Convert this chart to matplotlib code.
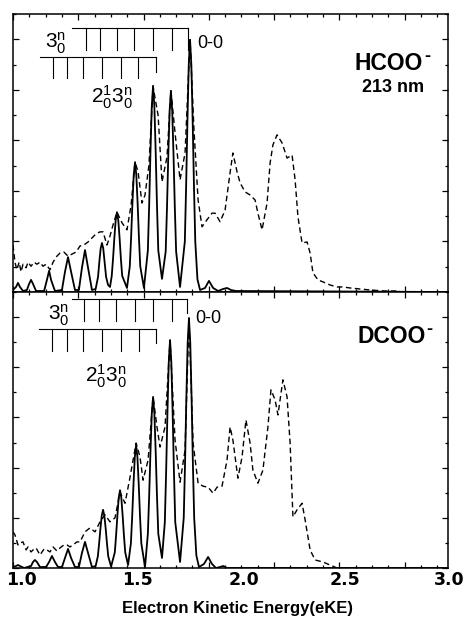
import matplotlib
matplotlib.use('Agg')
import matplotlib.pyplot as plt
import numpy as np

plt.rcParams['font.family'] = 'Liberation Sans'
plt.rcParams['mathtext.fontset'] = 'custom'
plt.rcParams['mathtext.rm'] = 'Liberation Sans'
plt.rcParams['mathtext.it'] = 'Liberation Sans:italic'
plt.rcParams['mathtext.bf'] = 'Liberation Sans:bold'

# --- HCOO- (upper panel) ---
hcoo_sim_x = [1.000, 1.014, 1.023, 1.032, 1.046, 1.064, 1.074, 1.083, 1.092, 1.106,
              1.143, 1.156, 1.166, 1.175, 1.193, 1.225, 1.239, 1.253, 1.267, 1.285,
              1.303, 1.317, 1.331, 1.345, 1.363, 1.380,
              1.391, 1.397, 1.403, 1.409, 1.415, 1.421, 1.428, 1.437, 1.446,
              1.454, 1.460, 1.466, 1.472, 1.478, 1.484, 1.490, 1.496, 1.502, 1.524,
              1.537, 1.543, 1.549, 1.555, 1.561, 1.567, 1.573, 1.579, 1.585, 1.602,
              1.620, 1.626, 1.632, 1.638, 1.644, 1.650, 1.656, 1.662, 1.668, 1.685,
              1.702, 1.708, 1.714, 1.720, 1.726, 1.732, 1.738, 1.744, 1.750, 1.768,
              1.790, 1.796, 1.802, 1.808, 1.814, 1.820, 1.826, 1.832, 1.838, 1.848, 1.860,
              1.883, 1.901, 1.920, 1.943, 1.966, 1.984, 2.002, 2.025, 3.000]
hcoo_sim_y = [0.04, 0.10, 0.18, 0.10, 0.02, 0.04, 0.16, 0.24, 0.16, 0.02,
              0.02, 0.24, 0.42, 0.24, 0.02, 0.04, 0.40, 0.69, 0.40, 0.04,
              0.04, 0.48, 0.83, 0.48, 0.04, 0.06,
              0.30, 0.60, 0.86, 0.97, 0.86, 0.60, 0.30, 0.14, 0.10,
              0.32, 0.66, 1.07, 1.42, 1.58, 1.42, 1.07, 0.66, 0.32, 0.08,
              0.51, 1.08, 1.75, 2.31, 2.57, 2.31, 1.75, 1.08, 0.51, 0.08,
              0.82, 1.71, 2.77, 3.67, 4.08, 3.67, 2.77, 1.71, 0.82, 0.26,
              0.80, 1.67, 2.71, 3.58, 3.98, 3.58, 2.71, 1.67, 0.80, 0.10,
              1.00, 2.10, 3.39, 4.49, 4.99, 4.49, 3.39, 2.10, 1.00, 0.25, 0.04,
              0.08, 0.22, 0.08, 0.02, 0.06, 0.08, 0.04, 0.02, 0.00]

hcoo_exp_x = [1.000, 1.009, 1.018, 1.028, 1.037, 1.046, 1.060, 1.069, 1.083, 1.097,
              1.110, 1.124, 1.138, 1.152, 1.170, 1.184, 1.202, 1.216, 1.234, 1.253,
              1.271, 1.290, 1.308, 1.326, 1.345, 1.363, 1.382, 1.400, 1.414, 1.432,
              1.446, 1.460, 1.478, 1.501, 1.524, 1.543, 1.561, 1.575, 1.593, 1.607,
              1.625, 1.644, 1.667, 1.685, 1.708, 1.726, 1.745, 1.768, 1.791, 1.814,
              1.832, 1.851, 1.869, 1.892, 1.915, 1.929, 1.952, 1.975, 1.998, 2.011,
              2.030, 2.044, 2.067, 2.090, 2.113, 2.126, 2.145, 2.168, 2.182, 2.195,
              2.214, 2.237, 2.260, 2.283, 2.297, 2.310, 2.329, 2.352, 2.366, 2.379,
              2.402, 2.425, 2.457, 2.490, 2.517, 2.549, 2.595, 2.641, 2.710, 2.779]
hcoo_exp_y = [0.93, 0.59, 0.44, 0.59, 0.40, 0.55, 0.48, 0.59, 0.51, 0.59,
              0.55, 0.59, 0.51, 0.55, 0.44, 0.59, 0.71, 0.77, 0.79, 0.71,
              0.75, 0.79, 0.91, 0.93, 0.99, 1.07, 1.15, 1.19, 1.19, 0.93,
              1.11, 1.33, 1.58, 1.37, 1.23, 1.72, 2.57, 2.38, 1.76, 1.92,
              2.51, 4.06, 3.50, 2.18, 2.67, 3.98, 3.15, 2.22, 2.75, 4.99,
              3.21, 1.82, 1.29, 1.43, 1.56, 1.56, 1.39, 1.62, 2.36, 2.75,
              2.38, 2.16, 1.98, 1.92, 1.82, 1.56, 1.23, 1.76, 2.55, 2.91,
              3.11, 2.95, 2.65, 2.71, 2.22, 1.49, 0.97, 0.99, 0.77, 0.38,
              0.24, 0.20, 0.14, 0.10, 0.10, 0.08, 0.06, 0.04, 0.02, 0.02]

# --- DCOO- (lower panel) ---
dcoo_sim_x = [1.000, 1.014, 1.023, 1.032, 1.051, 1.083, 1.092, 1.101, 1.110, 1.124,
              1.152, 1.166, 1.179, 1.193, 1.207, 1.225, 1.239, 1.253, 1.267, 1.285,
              1.303, 1.317, 1.331, 1.345, 1.363, 1.380,
              1.390, 1.396, 1.402, 1.408, 1.414, 1.420, 1.426, 1.432, 1.438, 1.451,
              1.468, 1.474, 1.480, 1.486, 1.492, 1.498, 1.504, 1.510, 1.516, 1.529,
              1.542, 1.548, 1.554, 1.560, 1.566, 1.572, 1.578, 1.584, 1.590, 1.607,
              1.620, 1.626, 1.632, 1.638, 1.644, 1.650, 1.656, 1.662, 1.668, 1.685,
              1.698, 1.704, 1.710, 1.716, 1.722, 1.728, 1.734, 1.740, 1.746, 1.768,
              1.785, 1.791, 1.797, 1.803, 1.809, 1.815, 1.821, 1.827, 1.833, 1.843, 1.855,
              1.878, 1.897, 1.915, 1.933, 1.952, 1.966, 1.984, 3.000]
dcoo_sim_y = [0.02, 0.04, 0.06, 0.04, 0.00, 0.04, 0.12, 0.16, 0.12, 0.02,
              0.02, 0.12, 0.24, 0.12, 0.02, 0.02, 0.20, 0.38, 0.20, 0.02,
              0.02, 0.30, 0.52, 0.30, 0.02, 0.04,
              0.23, 0.49, 0.79, 1.04, 1.16, 1.04, 0.79, 0.49, 0.23, 0.03,
              0.31, 0.65, 1.05, 1.40, 1.55, 1.40, 1.05, 0.65, 0.31, 0.06,
              0.49, 1.03, 1.67, 2.21, 2.45, 2.21, 1.67, 1.03, 0.49, 0.02,
              0.68, 1.43, 2.32, 3.07, 3.41, 3.07, 2.32, 1.43, 0.68, 0.20,
              0.91, 1.91, 3.09, 4.09, 4.54, 4.09, 3.09, 1.91, 0.91, 0.12,
              1.00, 2.09, 3.39, 4.48, 4.98, 4.48, 3.39, 2.09, 1.00, 0.25, 0.02,
              0.08, 0.22, 0.08, 0.00, 0.02, 0.04, 0.00, 0.00]

dcoo_exp_x = [1.000, 1.009, 1.023, 1.032, 1.046, 1.060, 1.069, 1.083, 1.092, 1.106,
              1.124, 1.143, 1.156, 1.170, 1.184, 1.202, 1.216, 1.234, 1.248, 1.262,
              1.276, 1.294, 1.308, 1.331, 1.354, 1.377, 1.400, 1.423, 1.446, 1.469,
              1.492, 1.515, 1.538, 1.566, 1.584, 1.598, 1.621, 1.644, 1.662, 1.676,
              1.699, 1.722, 1.745, 1.768, 1.791, 1.809, 1.828, 1.851, 1.874, 1.897,
              1.920, 1.938, 1.961, 1.984, 1.998, 2.011, 2.034, 2.053, 2.071, 2.090,
              2.103, 2.126, 2.149, 2.172, 2.186, 2.205, 2.218, 2.241, 2.260, 2.274,
              2.287, 2.306, 2.329, 2.343, 2.366, 2.389, 2.425, 2.457, 2.490, 2.536,
              2.595]
dcoo_exp_y = [0.72, 0.66, 0.46, 0.50, 0.52, 0.36, 0.42, 0.32, 0.36, 0.40,
              0.26, 0.38, 0.36, 0.32, 0.42, 0.34, 0.40, 0.46, 0.46, 0.42,
              0.46, 0.52, 0.52, 0.72, 0.80, 0.72, 0.92, 1.06, 0.92, 1.00,
              1.51, 1.29, 1.81, 2.49, 2.21, 1.75, 2.15, 3.41, 2.81, 2.41,
              2.81, 4.54, 2.55, 1.71, 2.35, 4.98, 2.49, 1.69, 1.63, 1.61,
              1.49, 1.61, 1.63, 2.15, 2.81, 2.55, 1.79, 2.21, 2.95, 2.49,
              1.95, 1.69, 1.95, 2.81, 3.55, 3.35, 3.05, 3.75, 3.41, 2.49,
              1.02, 1.16, 1.29, 0.96, 0.36, 0.16, 0.12, 0.06, 0.00, 0.00,
              0.00]

# vibrational progression combs (eV)
hcoo_comb3 = [1.336, 1.400, 1.478, 1.556, 1.644, 1.731, 1.805]
hcoo_comb23 = [1.184, 1.248, 1.322, 1.409, 1.497, 1.575, 1.657]
dcoo_comb3 = [1.327, 1.395, 1.474, 1.561, 1.644, 1.731, 1.800]
dcoo_comb23 = [1.179, 1.248, 1.322, 1.409, 1.497, 1.580, 1.657]

xtick_labels = ['1.0', '1.5', '2.0', '2.5', '3.0']
xtick_label_pos = [1.041, 1.570, 2.062, 2.526, 3.005]

fig = plt.figure(figsize=(4.66, 6.18), dpi=100)
ax1 = fig.add_axes([0.0279, 0.5275, 0.9335, 0.4498])
ax2 = fig.add_axes([0.0279, 0.0809, 0.9335, 0.4466])


def comb(ax, xs, y_top, y_bot, y_end, x_start):
    ax.plot([x_start, xs[-1]], [y_top, y_top], color='k', lw=0.8)
    for x in xs[:-1]:
        ax.plot([x, x], [y_top, y_bot], color='k', lw=0.8)
    ax.plot([xs[-1], xs[-1]], [y_top, y_end], color='k', lw=0.8)


for ax in (ax1, ax2):
    ax.set_xlim(1.0, 3.0)
    ax.set_ylim(0, 5.5)
    ax.set_xticks(np.arange(1.0, 2.95, 0.3))
    ax.set_xticks(np.arange(1.0, 3.0, 0.075), minor=True)
    ax.set_yticks(np.arange(0, 5.6, 1.0))
    ax.set_yticks(np.arange(0, 5.6, 0.5), minor=True)
    ax.tick_params(which='both', direction='in', top=True, right=True,
                   labelbottom=False, labelleft=False, width=0.9)
    ax.tick_params(which='major', length=4.5)
    ax.tick_params(which='minor', length=2.5)
    for s in ax.spines.values():
        s.set_linewidth(1.1)

ax1.plot(hcoo_exp_x, hcoo_exp_y, color='k', lw=1.0, ls=(0, (4, 2.5)))
ax1.plot(hcoo_sim_x, hcoo_sim_y, color='k', lw=1.3)
ax2.plot(dcoo_exp_x, dcoo_exp_y, color='k', lw=1.0, ls=(0, (4, 2.5)))
ax2.plot(dcoo_sim_x, dcoo_sim_y, color='k', lw=1.3)

comb(ax1, hcoo_comb3, 5.23, 4.79, 4.79, 1.271)
comb(ax1, hcoo_comb23, 4.65, 4.24, 4.36, 1.124)
comb(ax2, dcoo_comb3, 5.36, 4.92, 5.08, 1.271)
comb(ax2, dcoo_comb23, 4.76, 4.32, 4.48, 1.120)

ax1.text(1.147, 4.83, r'$3_0^\mathrm{n}$', fontsize=15, va='baseline')
ax1.text(1.359, 3.74, r'$2_0^1 3_0^\mathrm{n}$', fontsize=15, va='baseline')
ax1.text(1.846, 4.83, '0-0', fontsize=13, va='baseline')
t1 = ax1.text(2.572, 4.40, 'HCOO', fontsize=16.5, fontweight='bold', va='baseline')
ax1.annotate('-', xy=(1.0, 0.80), xycoords=t1, xytext=(0.5, 0), textcoords='offset points',
             ha='left', va='center', fontsize=13, fontweight='bold')
ax1.text(2.605, 3.96, '213 nm', fontsize=13, fontweight='bold', va='baseline')

ax2.text(1.161, 4.94, r'$3_0^\mathrm{n}$', fontsize=15, va='baseline')
ax2.text(1.331, 3.71, r'$2_0^1 3_0^\mathrm{n}$', fontsize=15, va='baseline')
ax2.text(1.837, 4.88, '0-0', fontsize=13, va='baseline')
t2 = ax2.text(2.582, 4.48, 'DCOO', fontsize=16.5, fontweight='bold', va='baseline')
ax2.annotate('-', xy=(1.0, 0.80), xycoords=t2, xytext=(0.5, 0), textcoords='offset points',
             ha='left', va='center', fontsize=13, fontweight='bold')

for s, x in zip(xtick_labels, xtick_label_pos):
    ax2.text(x, -0.012, s, transform=ax2.get_xaxis_transform(), ha='center', va='top',
             fontsize=12.5, fontweight='bold', family='DejaVu Sans', clip_on=False)

fig.text(0.509, 0.008, 'Electron Kinetic Energy(eKE)', ha='center', va='baseline',
         fontsize=12, fontweight='bold')

fig.savefig('out.png', dpi=100)
